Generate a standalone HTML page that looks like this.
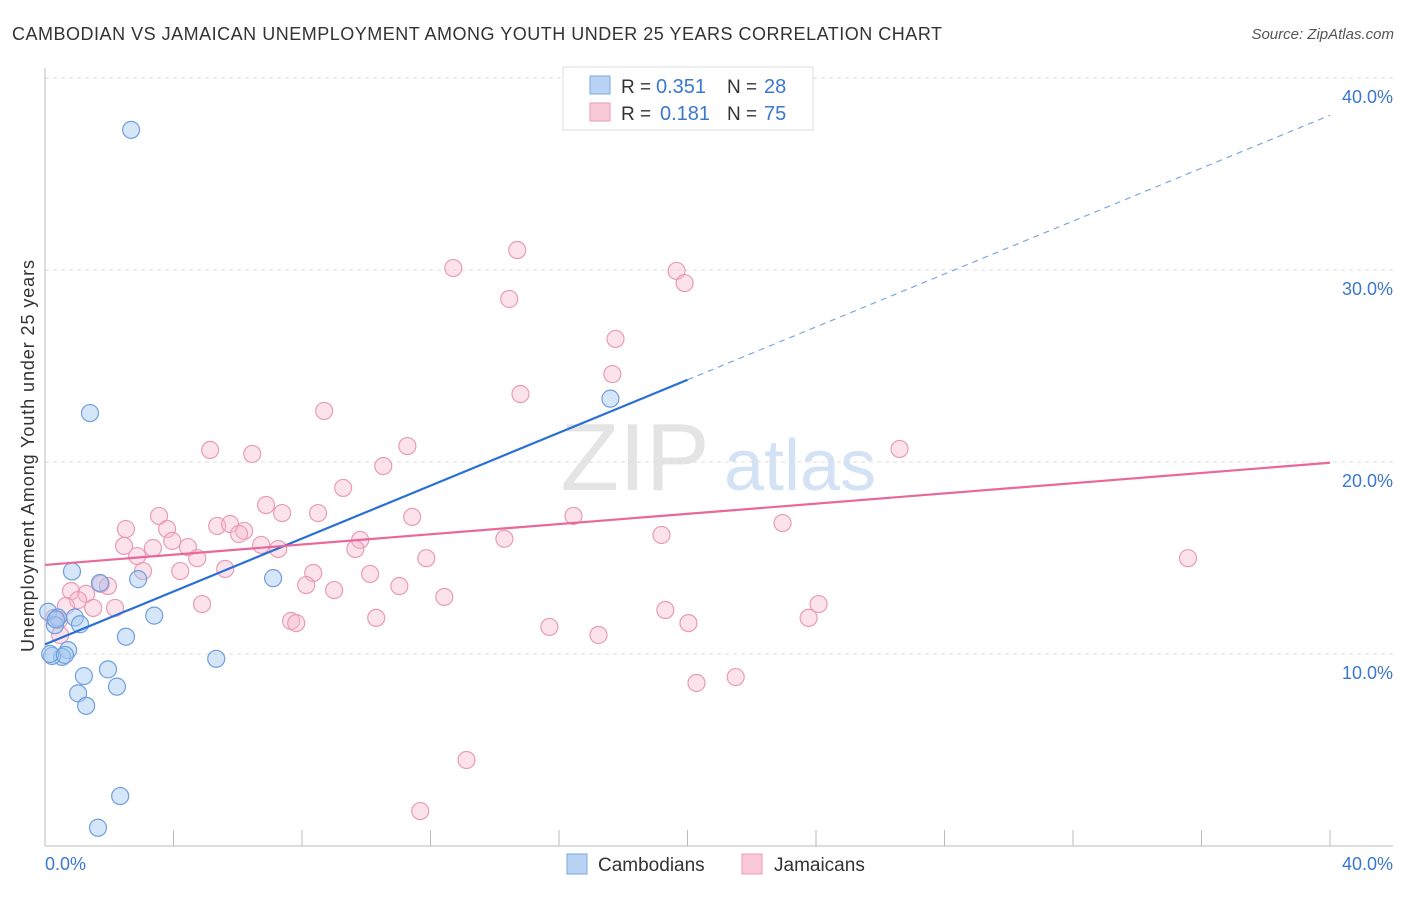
<!DOCTYPE html>
<html><head><meta charset="utf-8"><style>
body{margin:0;background:#fff;font-family:"Liberation Sans",sans-serif;}
svg text{font-family:"Liberation Sans",sans-serif;}
</style></head><body>
<svg id="chart" width="1406" height="892" xmlns="http://www.w3.org/2000/svg">
<text x="12" y="40" font-size="18" fill="#333" textLength="930" lengthAdjust="spacing">CAMBODIAN VS JAMAICAN UNEMPLOYMENT AMONG YOUTH UNDER 25 YEARS CORRELATION CHART</text>
<text x="1394" y="39" font-size="15" fill="#555" text-anchor="end" font-style="italic">Source: ZipAtlas.com</text>
<g>
<text x="635" y="490" font-size="96" fill="#e4e4e4" text-anchor="middle" font-family="Liberation Serif">ZIP</text>
<text x="800" y="490" font-size="72" fill="#d3e2f5" text-anchor="middle">atlas</text>
</g>
<g id="grid"></g><g id="axes"></g><g id="marks"></g>
<text transform="translate(34,456) rotate(-90)" font-size="18" fill="#333" text-anchor="middle" textLength="392" lengthAdjust="spacing">Unemployment Among Youth under 25 years</text>
<g>
<rect x="563" y="67" width="250" height="63" fill="#fff" stroke="#ddd"/>
<rect x="590" y="76" width="20" height="18" fill="#b9d3f5" stroke="#7aa8e0"/>
<rect x="590" y="103" width="20" height="18" fill="#f9c9d8" stroke="#e89ab4"/>
<text x="621" y="93" font-size="19" fill="#333">R =</text>
<text x="656" y="93" font-size="20" fill="#3a78d0">0.351</text>
<text x="727" y="93" font-size="19" fill="#333">N =</text>
<text x="764" y="93" font-size="20" fill="#3a78d0">28</text>
<text x="621" y="120" font-size="19" fill="#333">R =</text>
<text x="660" y="120" font-size="20" fill="#3a78d0">0.181</text>
<text x="727" y="120" font-size="19" fill="#333">N =</text>
<text x="764" y="120" font-size="20" fill="#3a78d0">75</text>
</g>
<g>
<rect x="567" y="854" width="20" height="20" fill="#b9d3f5" stroke="#7aa8e0"/>
<text x="598" y="871" font-size="19" fill="#333">Cambodians</text>
<rect x="742" y="854" width="20" height="20" fill="#f9c9d8" stroke="#e89ab4"/>
<text x="774" y="871" font-size="19" fill="#333">Jamaicans</text>
</g>
</svg>
<script>
const yTicks=[10,20,30,40];
const yTickLabels=["10.0%","20.0%","30.0%","40.0%"];
const xTicks=[0,4,8,12,16,20,24,28,32,36,40];
const blueX=[2.68,1.40,17.6,7.1,0.84,1.71,2.9,3.4,2.52,0.1,0.4,0.93,1.09,0.31,0.72,0.53,0.22,0.16,1.21,1.96,5.33,1.03,2.24,1.28,2.34,1.65,0.62,0.34];
const blueY=[37.3,22.55,23.3,13.95,14.3,13.7,13.9,12.0,10.9,12.2,11.9,11.9,11.55,11.5,10.2,9.85,9.9,10.0,8.85,9.2,9.75,7.95,8.3,7.3,2.6,0.95,9.95,11.8];
const pinkX=[14.70,12.71,19.66,19.91,14.45,17.76,17.66,14.80,8.69,11.28,5.14,6.45,26.60,10.53,9.28,6.88,7.38,8.50,11.43,16.45,3.55,2.52,3.80,5.36,5.76,6.20,6.04,22.96,3.96,2.46,3.36,4.45,6.73,7.26,9.81,9.66,14.30,19.19,2.87,4.74,11.87,35.58,3.05,4.21,5.61,8.35,10.12,1.74,1.96,8.13,11.03,9.00,0.81,1.28,1.03,12.43,4.89,24.08,0.65,1.50,2.18,19.31,10.31,23.77,7.66,7.82,20.03,15.70,17.23,0.44,0.47,0.28,20.28,21.50,13.12,11.68];
const pinkY=[31.04,30.10,29.95,29.32,28.49,26.41,24.58,23.54,22.66,20.83,20.63,20.42,20.68,19.79,18.65,17.76,17.34,17.34,17.14,17.19,17.19,16.51,16.51,16.67,16.77,16.41,16.25,16.82,15.89,15.63,15.52,15.57,15.68,15.47,15.94,15.47,16.0,16.20,15.10,14.99,14.99,14.99,14.32,14.32,14.43,14.22,14.17,13.65,13.54,13.59,13.54,13.33,13.28,13.13,12.81,12.97,12.60,12.60,12.50,12.40,12.40,12.29,11.88,11.88,11.72,11.61,11.61,11.41,10.99,11.77,10.99,11.88,8.49,8.80,4.48,1.82];
const blueTrend=[10.5,0.689]; // intercept, slope
const pinkTrend=[14.64,0.133];
const sx=v=>45+v*32.125, sy=v=>846-v*19.2;
const NS="http://www.w3.org/2000/svg";
function mk(parent,tag,at){const e=document.createElementNS(NS,tag);for(const k in at)e.setAttribute(k,at[k]);document.getElementById(parent).appendChild(e);return e;}
yTicks.forEach((t,i)=>{
 const g=mk('grid','line',{x1:45,x2:1393,y1:sy(t),y2:sy(t),stroke:'#ddd','stroke-dasharray':'4,4'});
 
 
 const tx=mk('axes','text',{x:1393,y:sy(t)+25,'font-size':18,fill:'#3a78d0','text-anchor':'end'});
 tx.textContent=yTickLabels[i];
 
 
});
const ax=mk('axes','line',{x1:45,x2:45,y1:68,y2:846,stroke:'#bbb'});


const bx=mk('axes','line',{x1:45,x2:1393,y1:846,y2:846,stroke:'#bbb'});


xTicks.forEach(t=>{const l=mk('axes','line',{x1:sx(t),x2:sx(t),y1:830,y2:846,stroke:'#bbb'});
 
 });
[["0.0%",45,"start"],["40.0%",1393,"end"]].forEach(a=>{const t=mk('axes','text',{x:a[1],y:870,'font-size':18,fill:'#3a78d0','text-anchor':a[2]});t.textContent=a[0];
 
 });
pinkX.forEach((x,i)=>{const c=mk('marks','circle',{cx:sx(x),cy:sy(pinkY[i]),r:8.5,fill:'rgba(247,185,205,0.4)',stroke:'#e99bb6','stroke-width':1.2});
 
 });
blueX.forEach((x,i)=>{const c=mk('marks','circle',{cx:sx(x),cy:sy(blueY[i]),r:8.5,fill:'rgba(165,200,242,0.45)',stroke:'#6f9fdc','stroke-width':1.2});
 
 });
const bl=mk('marks','line',{x1:sx(0),y1:sy(blueTrend[0]),x2:sx(20),y2:sy(blueTrend[0]+20*blueTrend[1]),stroke:'#2a6fd6','stroke-width':2.2});


const bd=mk('marks','line',{x1:sx(20),y1:sy(blueTrend[0]+20*blueTrend[1]),x2:sx(40),y2:sy(blueTrend[0]+40*blueTrend[1]),stroke:'#7aa8e0','stroke-width':1.2,'stroke-dasharray':'6,5'});


const pl=mk('marks','line',{x1:sx(0),y1:sy(pinkTrend[0]),x2:sx(40),y2:sy(pinkTrend[0]+40*pinkTrend[1]),stroke:'#e8689a','stroke-width':2.2});


</script>
</body></html>
